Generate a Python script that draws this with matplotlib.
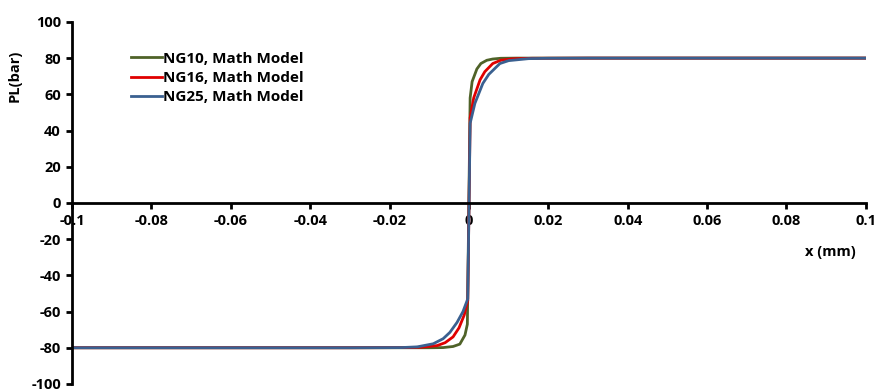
import matplotlib.pyplot as plt

# NG10
x_ng10 = [-0.1, -0.02, -0.01, -0.0065, -0.004, -0.0023, -0.001, -0.0004,
          0.0003, 0.0008, 0.002, 0.003, 0.0045, 0.006, 0.008, 0.012, 0.02, 0.1]
y_ng10 = [-80, -80, -80, -79.9, -79.3, -78, -73, -67,
          58, 67, 74, 77, 78.8, 79.5, 79.9, 80, 80, 80]

# NG16
x_ng16 = [-0.1, -0.03, -0.015, -0.012, -0.008, -0.006, -0.004, -0.0025, -0.0012, -0.0003,
          0.0003, 0.0012, 0.0028, 0.004, 0.006, 0.008, 0.011, 0.016, 0.03, 0.1]
y_ng16 = [-80, -80, -79.9, -79.7, -78.8, -77.2, -74, -69, -62, -54,
          47, 58, 68, 72.5, 77, 78.8, 79.6, 79.9, 80, 80]

# NG25
x_ng25 = [-0.1, -0.03, -0.017, -0.013, -0.009, -0.0065, -0.0048, -0.003, -0.0015, -0.0003,
          0.0003, 0.0015, 0.0035, 0.005, 0.0078, 0.01, 0.015, 0.02, 0.03, 0.1]
y_ng25 = [-80, -80, -79.9, -79.5, -77.8, -75, -71.5, -66, -60, -53,
          44, 55, 66, 71, 77, 78.6, 79.7, 79.9, 80, 80]

plt.rcParams['font.family'] = ['Open Sans', 'DejaVu Sans']
plt.rcParams['font.weight'] = 'bold'
plt.rcParams['axes.unicode_minus'] = False

fig = plt.figure(figsize=(8.79, 3.91), dpi=100)
ax = fig.add_axes([0.082, 0.018, 0.903, 0.926])

ax.plot(x_ng10, y_ng10, color='#4F6228', lw=2, label='NG10, Math Model')
ax.plot(x_ng16, y_ng16, color='#E00000', lw=2, label='NG16, Math Model')
ax.plot(x_ng25, y_ng25, color='#3A6090', lw=2, label='NG25, Math Model')

ax.set_xlim(-0.1, 0.1)
ax.set_ylim(-100, 100)
ax.set_xticks([-0.1, -0.08, -0.06, -0.04, -0.02, 0, 0.02, 0.04, 0.06, 0.08, 0.1])
ax.set_xticklabels(['-0.1', '-0.08', '-0.06', '-0.04', '-0.02', '0',
                    '0.02', '0.04', '0.06', '0.08', '0.1'])
ax.set_yticks(range(-100, 101, 20))

ax.spines['top'].set_visible(False)
ax.spines['right'].set_visible(False)
ax.spines['bottom'].set_position(('data', 0))
ax.spines['left'].set_linewidth(2)
ax.spines['bottom'].set_linewidth(2)
ax.tick_params(direction='out', length=4, width=2, labelsize=10.5, pad=4)
for t in ax.get_xticklabels() + ax.get_yticklabels():
    t.set_fontweight('bold')

ax.set_ylabel('PL(bar)', fontsize=10.5, fontweight='bold')
ax.yaxis.set_label_coords(-0.064, 0.85)
ax.text(0.955, 0.365, 'x (mm)', transform=ax.transAxes, fontsize=10.5,
        fontweight='bold', ha='center', va='center')

leg = ax.legend(loc='upper left', bbox_to_anchor=(0.067, 0.935), frameon=False,
                fontsize=11, handlelength=2.0, handletextpad=0.1,
                labelspacing=0.35, borderaxespad=0)
for t in leg.get_texts():
    t.set_fontweight('bold')

fig.savefig('out.png', dpi=100)
